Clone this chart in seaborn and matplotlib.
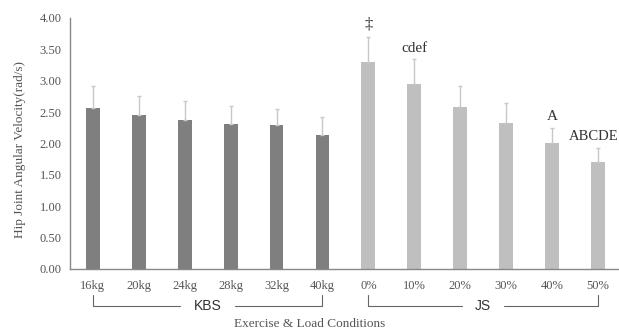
import pandas as pd
import seaborn as sns
import matplotlib
matplotlib.use("Agg")
import matplotlib.pyplot as plt

# %% data
conditions = ['16kg', '20kg', '24kg', '28kg', '32kg', '40kg', '0%', '10%', '20%', '30%', '40%', '50%']
groups = ['KBS'] * 6 + ['JS'] * 6
velocity = [2.56, 2.46, 2.38, 2.31, 2.30, 2.14, 3.30, 2.94, 2.58, 2.32, 2.00, 1.71]
sd = [0.35, 0.30, 0.29, 0.28, 0.25, 0.28, 0.39, 0.40, 0.33, 0.32, 0.25, 0.22]
marks = ['', '', '', '', '', '', '‡', 'cdef', '', '', 'A', 'ABCDE']

df = pd.DataFrame({'Condition': conditions, 'Group': groups, 'Velocity': velocity})

# %% plot
sns.set_style("white")
serif = ['Liberation Serif', 'DejaVu Serif']
plt.rcParams['font.family'] = serif

fig = plt.figure(figsize=(6.19, 3.32), dpi=100)
ax = fig.add_axes([0.113, 0.19, 0.89, 0.756])
sns.barplot(data=df, x='Condition', y='Velocity', hue='Group', order=conditions,
            palette={'KBS': '#7f7f7f', 'JS': '#bfbfbf'}, dodge=False, width=0.3,
            linewidth=0, legend=False, ax=ax)
ax.errorbar(range(len(conditions)), velocity, yerr=[[0] * len(sd), sd], fmt='none',
            ecolor='#c8c8c8', elinewidth=1, capsize=1.5, capthick=1)

for i, m in enumerate(marks):
    if m:
        # last label sits against the right edge, nudge it in so it stays whole
        dx = -3 if i == len(marks) - 1 else 0
        ax.annotate(m, (i, velocity[i] + sd[i] + 0.07), xytext=(dx, 0), textcoords='offset points',
                    ha='center', va='bottom', fontsize=(10.5 if dx else 11) if m != '‡' else 12,
                    color='#333333', family=serif)

ax.set_xlim(-0.5, 11.5)
ax.set_ylim(0, 4)
ax.set_yticks([0, 0.5, 1, 1.5, 2, 2.5, 3, 3.5, 4])
ax.set_yticklabels([f'{v:.2f}' for v in ax.get_yticks()])
ax.tick_params(axis='y', length=3, width=0.8, color='#888888', labelsize=9, labelcolor='#555555', pad=3)
ax.tick_params(axis='x', length=0, labelsize=9, labelcolor='#555555', pad=8)
sns.despine(ax=ax)
for s in ['left', 'bottom']:
    ax.spines[s].set_color('#888888')
    ax.spines[s].set_linewidth(1)
ax.set_ylabel('Hip Joint Angular Velocity(rad/s)', fontsize=9.5, color='#555555')
ax.yaxis.set_label_coords(-0.08, 0.474)
ax.set_xlabel('')
fig.text(0.5, 0.024, 'Exercise & Load Conditions', ha='center', va='center', fontsize=9.5, color='#555555')

# brackets
tr = ax.get_xaxis_transform()
for name, a, b in [('KBS', 0, 5), ('JS', 6, 11)]:
    mid = (a + b) / 2
    gap = 0.6 if name == 'KBS' else 0.45
    ax.plot([a, a, mid - gap], [-0.103, -0.147, -0.147], color='#666666', lw=0.8, transform=tr, clip_on=False)
    ax.plot([mid + gap, b, b], [-0.147, -0.147, -0.103], color='#666666', lw=0.8, transform=tr, clip_on=False)
    ax.text(mid, -0.147, name, ha='center', va='center', fontsize=10, color='#333333',
            family=['Liberation Sans', 'DejaVu Sans'], transform=tr)

fig.savefig('out.png', dpi=100)
